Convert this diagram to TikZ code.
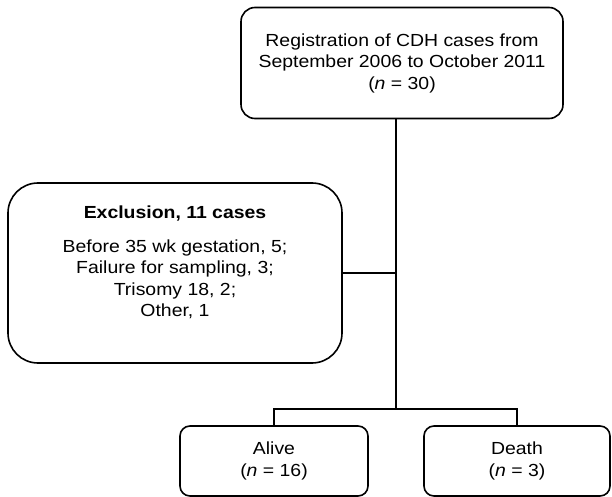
\documentclass[tikz,border=0pt]{standalone}
\usepackage{fontspec}
\setmainfont[FakeStretch=1.11]{Liberation Sans}
\usetikzlibrary{positioning}

\begin{document}
\begin{tikzpicture}[x=1pt,y=-1pt]
            \tikzset{my node/.style = {rectangle, draw, line width=1.6pt, align=center, inner sep=0pt, font=\fontsize{17.5}{21.5}\selectfont}}
            \tikzset{my edge/.style = {-, line width=1.6pt}}
            \useasboundingbox (0,0) rectangle (612,497);
            \node[my node, rounded corners=14pt, minimum width=322pt, minimum height=111pt] (1) at (402,63) {Registration of CDH cases from\\September 2006 to October 2011\\(\textit{n} = 30)};
            \node[my node, rounded corners=30pt, minimum width=334pt, minimum height=180pt] (2) at (175,273) {\textbf{Exclusion, 11 cases}\\[12pt]Before 35 wk gestation, 5;\\Failure for sampling, 3;\\Trisomy 18, 2;\\Other, 1\\[2pt]};
            \node[my node, rounded corners=10pt, minimum width=188pt, minimum height=70pt] (3) at (274,461) {Alive\\(\textit{n} = 16)};
            \node[my node, rounded corners=10pt, minimum width=186pt, minimum height=70pt] (4) at (517,461) {Death\\(\textit{n} = 3)};
            \coordinate (j) at (396,409);
            \draw[my edge] (1.south -| j) -- (j);
            \draw[my edge] (2) -- (2 -| j);
            \draw[my edge] (3) |- (j) -| (4);
        \end{tikzpicture}
\end{document}
